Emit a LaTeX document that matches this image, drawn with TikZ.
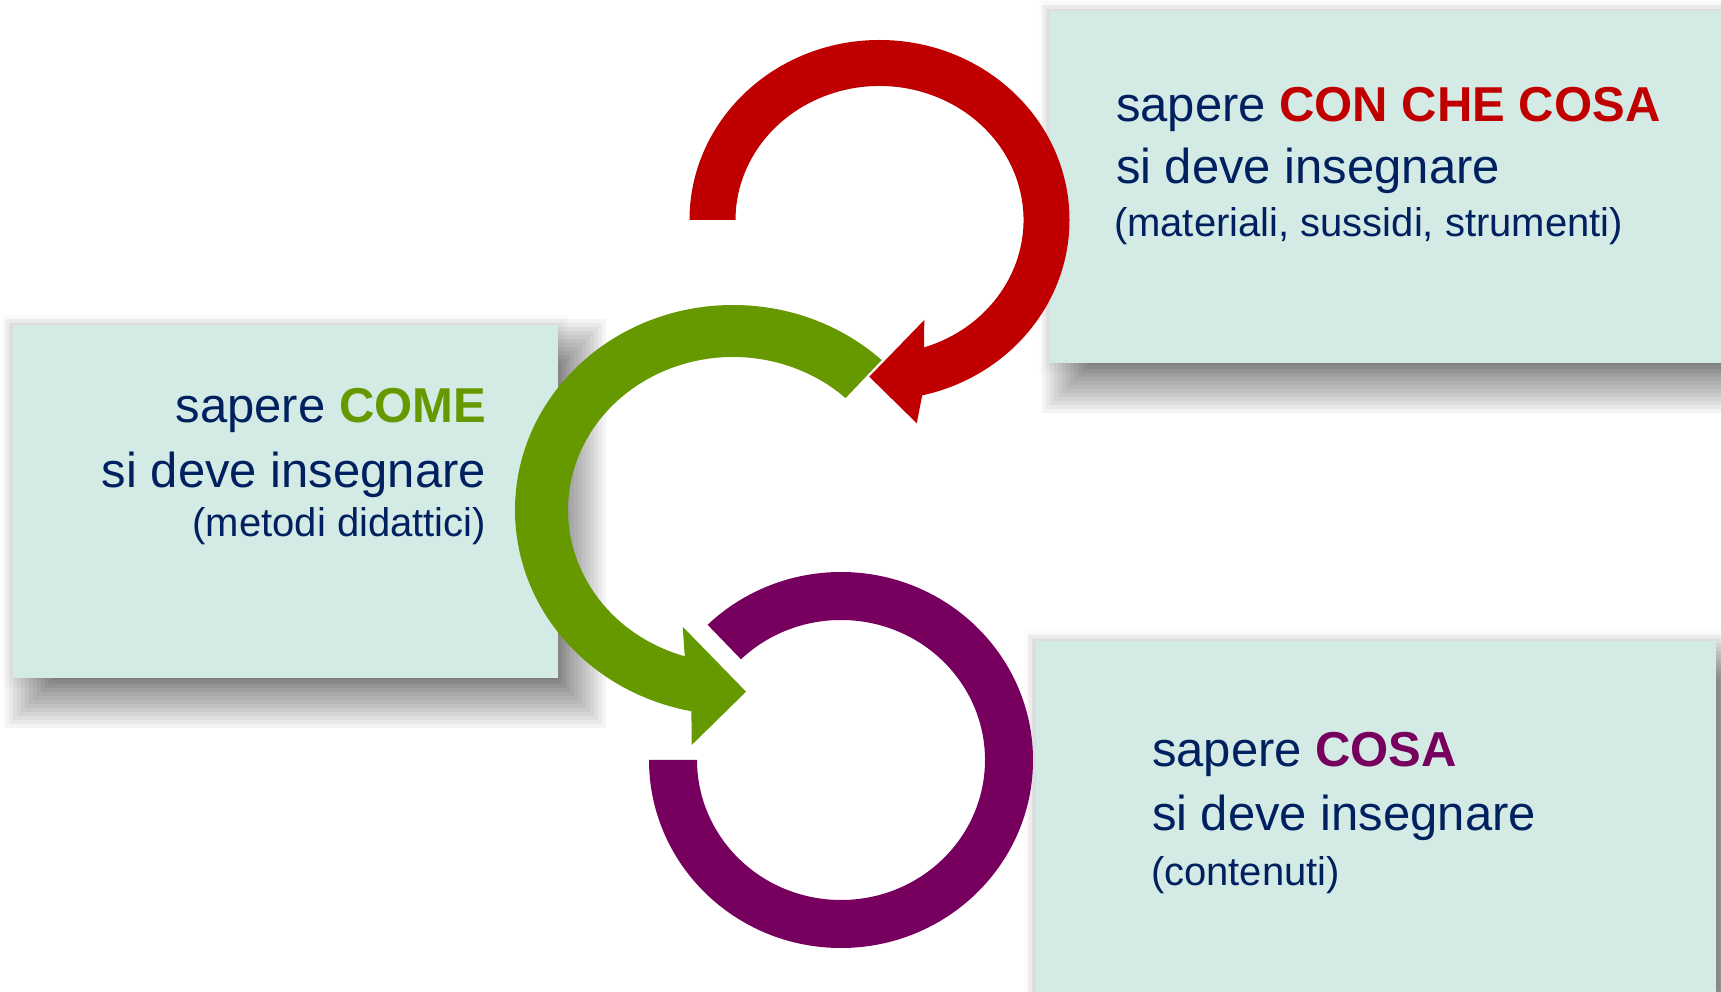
\documentclass[tikz,border=0pt]{standalone}
\usepackage{fontspec}
\setmainfont{Liberation Sans}
\usetikzlibrary{calc}
\definecolor{navy}{HTML}{002060}
\definecolor{cred}{HTML}{C00000}
\definecolor{cgreen}{HTML}{669900}
\definecolor{cpurple}{HTML}{77005F}
\definecolor{boxc}{HTML}{D4EAE4}
\newcommand\mkshadow[4]{%
  \foreach \e in {-28,-24,...,28}{%
    \fill[black,opacity=0.045] ({#1+20-(\e)},{#2-22-(\e)}) rectangle ({#3+20+(\e)},{#4-22+(\e)});}%
  \foreach \e in {2,4,...,12}{%
    \fill[black,opacity=0.008] ({#1-\e},{#2-\e}) rectangle ({#3+\e},{#4+\e});}%
}
\begin{document}
\begin{tikzpicture}[x=1bp,y=1bp,
  every node/.style={inner sep=0pt,outer sep=0pt},
  txt/.style={font=\fontsize{49bp}{58bp}\selectfont,text=navy},
  sm/.style={font=\fontsize{40bp}{48bp}\selectfont,text=navy},
  panel/.style={fill=boxc}]
\useasboundingbox (0,0) rectangle (1721,991);
\clip (0,0) rectangle (1721,991);
\fill[white] (0,0) rectangle (1721,991);

% shadows
\mkshadow{1050}{628}{1730}{980}
\mkshadow{13}{313}{558}{666}
\mkshadow{1036}{-10}{1716}{350}

% panels
\fill[panel] (1050,628) rectangle (1730,980);
\fill[panel] (13,313) rectangle (558,666);
\fill[panel] (1036,-10) rectangle (1716,350);

% centres of the arcs
\coordinate (R) at (879.5,771);
\coordinate (G) at (733,481);
\coordinate (P) at (841,231);

% purple ring
\fill[cpurple] ($(P)+(180:192 and 188)$) arc[start angle=180,end angle=494,x radius=192,y radius=188]
  -- ($(P)+(494:144 and 140)$) arc[start angle=494,end angle=180,x radius=144,y radius=140] -- cycle;

% green arrow
\fill[cgreen] ($(G)+(47:218 and 205)$) arc[start angle=47,end angle=259,x radius=218,y radius=205]
  -- (691.7,246) -- (746,299.3) -- (682.7,364.3)
  -- ($(G)+(253:165 and 153)$) arc[start angle=253,end angle=47,x radius=165,y radius=153] -- cycle;

% red arrow
\fill[cred] ($(R)+(180:190 and 180)$) arc[start angle=180,end angle=-77,x radius=190,y radius=180]
  -- (916.7,567.7) -- (869.3,614.3) -- (924.3,671)
  -- ($(R)+(-72:144 and 134)$) arc[start angle=-72,end angle=180,x radius=144,y radius=134] -- cycle;

% texts
\node[txt,anchor=base west] (tA1) at (1116,869) {sapere \textbf{\color{cred}CON CHE COSA}};
\node[txt,anchor=base west] (tA2) at (1116,807) {si deve insegnare};
\node[sm,anchor=base west] (tA3) at (1114,754) {(materiali, sussidi, strumenti)};

\node[txt,anchor=base east] (tB1) at (486,568) {sapere \textbf{\color{cgreen}COME}};
\node[txt,anchor=base east] (tB2) at (486,503) {si deve insegnare};
\node[sm,anchor=base east] (tB3) at (486,454) {(metodi didattici)};

\node[txt,anchor=base west] (tC1) at (1152,224) {sapere \textbf{\color{cpurple}COSA}};
\node[txt,anchor=base west] (tC2) at (1152,160) {si deve insegnare};
\node[sm,anchor=base west] (tC3) at (1151,106) {(contenuti)};
\end{tikzpicture}
\end{document}
